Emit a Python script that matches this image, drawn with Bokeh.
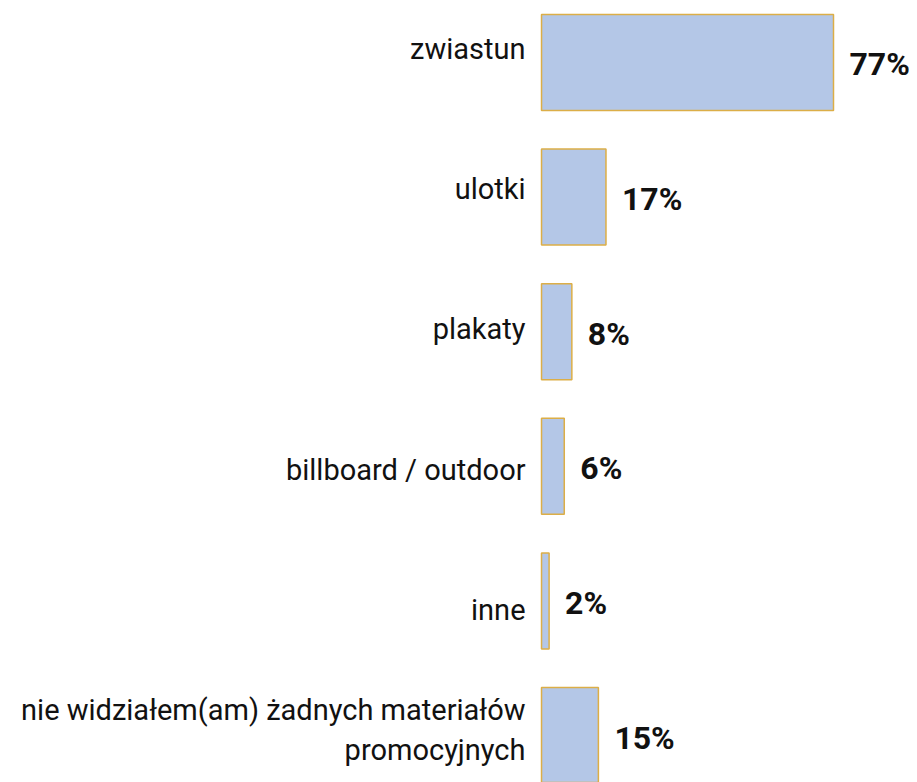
from bokeh.plotting import figure
from bokeh.models import ColumnDataSource, Range1d
from bokeh.core.properties import value
from bokeh.embed import file_html
from bokeh.resources import INLINE

categories = ["zwiastun", "ulotki", "plakaty", "billboard / outdoor", "inne",
              "nie widziałem(am) żadnych materiałów\npromocyjnych"]
percent = [77, 17, 8, 6, 2, 15]
pct_labels = ["77%", "17%", "8%", "6%", "2%", "15%"]

idx = list(range(len(categories)))
src = ColumnDataSource(dict(idx=idx, cat=categories, pct=percent, lbl=pct_labels))

p = figure(width=909, height=782, output_backend="svg", toolbar_location=None,
           x_range=Range1d(-142.67, 97.04), y_range=Range1d(5.349, -0.4606),
           min_border=0, outline_line_color=None)
p.extra_y_ranges = {"labels": Range1d(5.107, -0.463)}
p.xaxis.visible = False
p.yaxis.visible = False
p.grid.visible = False
p.background_fill_color = "white"
p.border_fill_color = "white"

p.hbar(y="idx", left=0, right="pct", height=0.713, source=src,
       fill_color="#b4c7e7", line_color="#dcae47", line_width=1.5)

p.text(x=0, y="idx", text="cat", source=src, y_range_name="labels",
       x_offset=-16, text_align="right", text_baseline="bottom",
       text_font=value("Roboto"), text_font_size="29px", text_color="#111111",
       text_line_height=1.2)

p.text(x="pct", y="idx", text="lbl", source=src,
       x_offset=16, y_offset=2, text_align="left", text_baseline="middle",
       text_font=value("Roboto"), text_font_style="bold", text_font_size="32px",
       text_color="#111111")

open("out.html", "w").write(file_html(p, INLINE))
